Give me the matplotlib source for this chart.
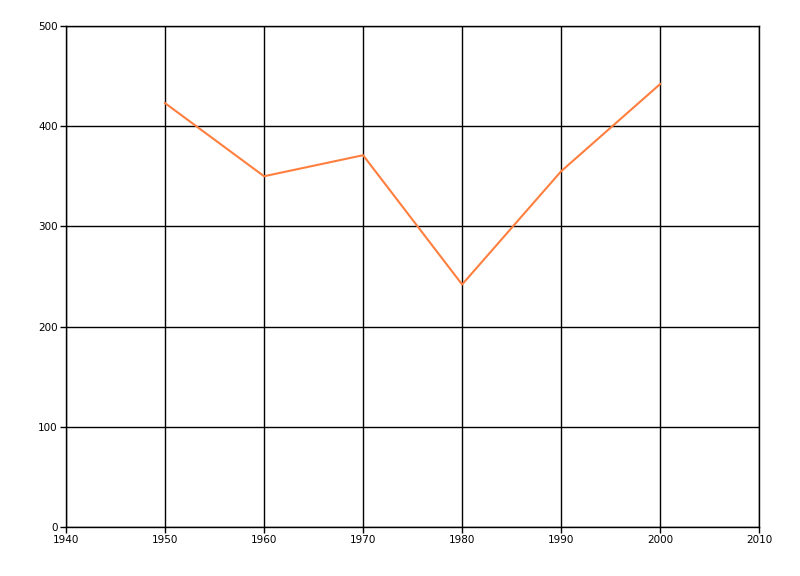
import matplotlib
matplotlib.use("Agg")
import matplotlib.pyplot as plt

# datos
years = [1950, 1960, 1970, 1980, 1990, 2000]
values = [423, 350, 371, 242, 355, 442]
x_ticks = [1940, 1950, 1960, 1970, 1980, 1990, 2000, 2010]
y_ticks = [0, 100, 200, 300, 400, 500]

fig = plt.figure(figsize=(8, 5.76), dpi=100)
ax = fig.add_axes([0.0825, 0.085, 0.8665, 0.87])

ax.plot(years, values, color="#FF7F3F", linewidth=1.5, zorder=3)

ax.set_xlim(1940, 2010)
ax.set_ylim(0, 500)
ax.set_xticks(x_ticks)
ax.set_yticks(y_ticks)
ax.grid(True, color="black", linewidth=1)
ax.set_axisbelow(True)
for s in ax.spines.values():
    s.set_color("black")
    s.set_linewidth(1)
ax.tick_params(axis="both", labelsize=7.5, colors="black", length=4, width=1, pad=2)

fig.savefig("out.png", dpi=100)
